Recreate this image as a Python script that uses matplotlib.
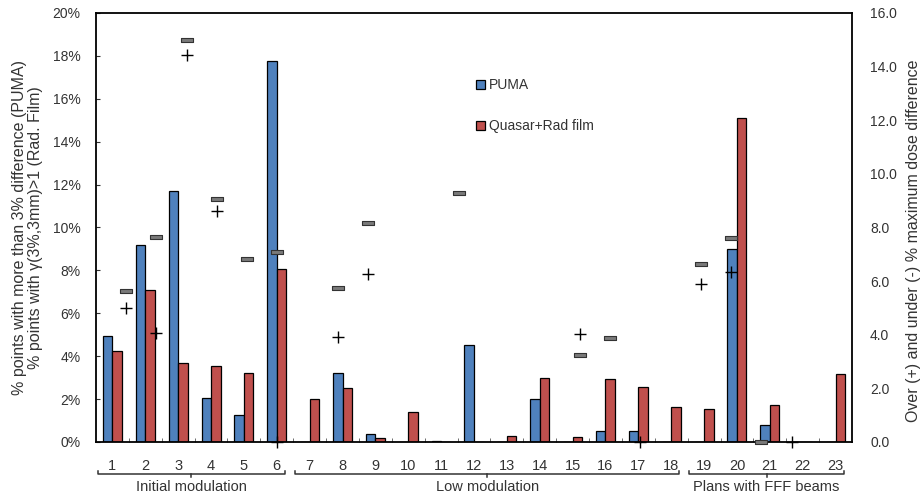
import numpy as np
import matplotlib
matplotlib.use('Agg')
from matplotlib import pyplot as plt
from matplotlib.path import Path
from matplotlib.ticker import FuncFormatter, MultipleLocator
import matplotlib.transforms as mtransforms

plt.rcParams['font.family'] = ['Liberation Sans', 'DejaVu Sans']
plt.rcParams['font.size'] = 10
plt.rcParams['xtick.major.pad'] = 12
plt.rcParams['xtick.major.size'] = 0

# plan numbers and the measured fractions (percent of points failing)
plans = [str(i) for i in range(1, 24)]
puma = [4.94, 9.2, 11.7, 2.04, 1.24, 17.76, 0, 3.23, 0.37, 0, 0.04, 4.52,
        0, 2.0, 0, 0.53, 0.51, 0, 0, 8.98, 0.79, 0, 0]
quasar = [4.24, 7.1, 3.7, 3.56, 3.23, 8.08, 2.02, 2.5, 0.17, 1.38, 0, 0,
          0.3, 2.98, 0.23, 2.92, 2.55, 1.62, 1.52, 15.12, 1.72, 0, 3.17]

# maximum dose difference, under (-) and over (+), right axis
dose_under = [5.64, 7.63, 14.98, 9.06, 6.81, 7.1, None, 5.73, 8.18, None, None, 9.28,
              None, None, 3.23, 3.89, None, None, 6.63, 7.62, 0.0, None, None]
dose_over = [4.99, 4.08, 14.43, 8.62, None, 0.0, None, 3.9, 6.25, None, None, None,
             None, None, 4.02, None, 0.0, None, 5.89, 6.35, None, 0.0, None]

# the dose series sits on its own category axis (blank slots at the ends and after plan 14)
dose_slots = [None] + plans[:14] + [None] + plans[14:] + [None]

groups = [('Initial modulation', '1', '6'),
          ('Low modulation', '7', '18'),
          ('Plans with FFF beams', '19', '23')]

fig = plt.figure(figsize=(9.23, 4.98), dpi=100)
ax = fig.add_axes([0.10401, 0.11245, 0.81907, 0.86145])

x = np.arange(len(plans))
w = 0.29
ax.bar(x - w / 2, puma, w, color='#4F81BD', edgecolor='black', linewidth=0.9,
       label='PUMA', zorder=2)
ax.bar(x + w / 2, quasar, w, color='#C0504D', edgecolor='black', linewidth=0.9,
       label='Quasar+Rad film', zorder=2)

ax.set_xlim(-0.5, len(plans) - 0.5)
ax.set_ylim(0, 20)
ax.yaxis.set_major_locator(MultipleLocator(2))
ax.yaxis.set_major_formatter(FuncFormatter(lambda v, p: '%d%%' % round(v)))
ax.tick_params(axis='y', direction='in', length=3, pad=11, labelsize=10, colors='#333333')
ax.set_xticks(x)
ax.set_xticklabels(plans, fontsize=10.5, color='#333333')
ax.set_xticks(np.arange(0.5, len(plans) - 1), minor=True)
ax.tick_params(axis='x', which='minor', direction='in', length=3, color='#555555')
for s in ax.spines.values():
    s.set_linewidth(1.3)
ax.set_ylabel('% points with more than 3% difference (PUMA)\n'
              '% points with \u03b3(3%,3mm)>1 (Rad. Film)', fontsize=11.5,
              color='#333333', labelpad=7, linespacing=1.1)

leg = ax.legend(loc='upper left', bbox_to_anchor=(0.503, 0.848), frameon=False,
                handlelength=0.6, handleheight=0.6, handletextpad=0.3,
                labelspacing=1.95, borderpad=0, borderaxespad=0, fontsize=10)
for t in leg.get_texts():
    t.set_color('#333333')

# group brackets under the plan numbers
tr = mtransforms.blended_transform_factory(ax.transData, ax.transAxes)
yb = -0.0746
dy = 0.008
for name, first, last in groups:
    x0 = plans.index(first) - 0.45
    x1 = plans.index(last) + 0.25
    xm = (x0 + x1) / 2
    ax.plot([x0, x0, x1, x1], [yb + dy, yb, yb, yb + dy], color='#333333', lw=1.1,
            transform=tr, clip_on=False)
    ax.plot([xm, xm], [yb, yb - dy], color='#333333', lw=1.1, transform=tr, clip_on=False)
    ax.text(xm, -0.106, name, transform=tr, ha='center', va='center', fontsize=10.5,
            color='#333333')

# dose difference markers on the secondary axes
ax2 = fig.add_axes(ax.get_position(), frameon=False)
ax2.set_xlim(0, len(dose_slots) - 1)
ax2.set_ylim(0, 16)
ax2.xaxis.set_visible(False)
ax2.yaxis.tick_right()
ax2.yaxis.set_label_position('right')
ax2.yaxis.set_major_locator(MultipleLocator(2))
ax2.yaxis.set_major_formatter(FuncFormatter(lambda v, p: '%.1f' % v))
ax2.tick_params(axis='y', direction='in', length=0, pad=13, labelsize=10, colors='#333333')
ax2.set_ylabel('Over (+) and under (-) % maximum dose difference', fontsize=11.5,
               color='#333333')
ax2.yaxis.set_label_coords(1.0714, 0.4685)

dash = Path([(-1, -0.32), (1, -0.32), (1, 0.32), (-1, 0.32), (-1, -0.32)],
            [Path.MOVETO, Path.LINETO, Path.LINETO, Path.LINETO, Path.CLOSEPOLY])
ux, uy, ox, oy = [], [], [], []
for k, p in enumerate(dose_slots):
    if p is None:
        continue
    i = plans.index(p)
    if dose_under[i] is not None:
        ux.append(k)
        uy.append(dose_under[i])
    if dose_over[i] is not None:
        ox.append(k)
        oy.append(dose_over[i])
ax2.plot(ux, uy, ls='none', marker=dash, markersize=8, mfc='#7a7a7a', mec='#333333',
         mew=0.8, clip_on=False)
ax2.plot(ox, oy, ls='none', marker='+', markersize=8, mec='black', mew=1.0, clip_on=False)

plt.savefig('out.png', dpi=100)
plt.close()
